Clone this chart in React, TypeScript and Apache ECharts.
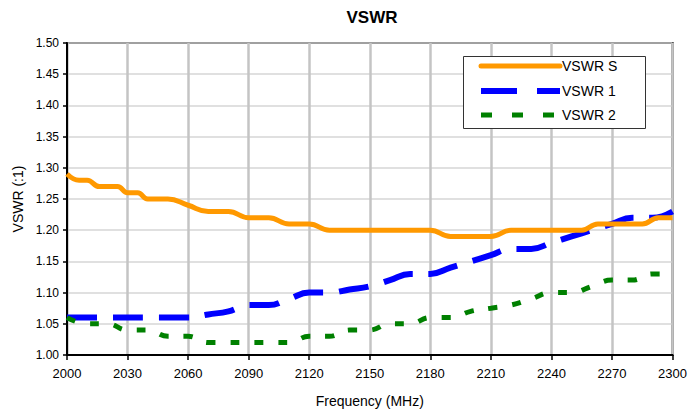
import React, { useEffect, useRef } from "react";
import * as echarts from "echarts";

const sFreq = [2000, 2006, 2010, 2016, 2025, 2030, 2035, 2040, 2050, 2060, 2070, 2080, 2090, 2100, 2110, 2120, 2130, 2140, 2150, 2160, 2170, 2180, 2190, 2200, 2210, 2220, 2230, 2240, 2255, 2263, 2270, 2280, 2285, 2293, 2300];
const sVals = [1.29, 1.28, 1.28, 1.27, 1.27, 1.26, 1.26, 1.25, 1.25, 1.24, 1.23, 1.23, 1.22, 1.22, 1.21, 1.21, 1.2, 1.2, 1.2, 1.2, 1.2, 1.2, 1.19, 1.19, 1.19, 1.2, 1.2, 1.2, 1.2, 1.21, 1.21, 1.21, 1.21, 1.22, 1.22];

const freq = [2000, 2010, 2020, 2030, 2040, 2050, 2060, 2070, 2080, 2090, 2100, 2110, 2120, 2130, 2140, 2150, 2160, 2170, 2180, 2190, 2200, 2210, 2220, 2230, 2240, 2250, 2260, 2270, 2280, 2290, 2300];
const v1 = [1.06, 1.06, 1.06, 1.06, 1.06, 1.06, 1.06, 1.065, 1.07, 1.08, 1.08, 1.09, 1.1, 1.1, 1.105, 1.11, 1.12, 1.13, 1.13, 1.14, 1.15, 1.16, 1.17, 1.17, 1.18, 1.19, 1.2, 1.21, 1.22, 1.22, 1.23];
const v2 = [1.06, 1.05, 1.05, 1.04, 1.04, 1.03, 1.03, 1.02, 1.02, 1.02, 1.02, 1.02, 1.03, 1.03, 1.04, 1.04, 1.05, 1.05, 1.06, 1.06, 1.07, 1.075, 1.08, 1.09, 1.1, 1.1, 1.11, 1.12, 1.12, 1.13, 1.13];

const seriesNames = ["VSWR S", "VSWR 1", "VSWR 2"];
const colors = ["#FF9900", "#0000FF", "#008000"];
const FONT = "Liberation Sans, Arial, sans-serif";

export default function App() {
  const ref = useRef<HTMLDivElement>(null);
  useEffect(() => {
    if (!ref.current) return;
    const chart = echarts.init(ref.current, undefined, { renderer: "svg" });
    const zip = (xs: number[], ys: number[]) => xs.map((x, i) => [x, ys[i]]);
    const legendRows = [66, 91, 115];
    const legendDash: (number[] | null)[] = [null, [36, 20], [11, 20]];
    const legendWidths = [5, 6, 5];
    const legendEls: any[] = [
      {
        type: "rect",
        shape: { x: 463.5, y: 56.5, width: 182, height: 72 },
        style: { fill: "#fff", stroke: "#333", lineWidth: 1 },
        z: 10,
      },
    ];
    seriesNames.forEach((name, i) => {
      legendEls.push({
        type: "line",
        shape: { x1: 481, y1: legendRows[i], x2: 560, y2: legendRows[i] },
        style: {
          stroke: colors[i],
          lineWidth: legendWidths[i],
          lineDash: legendDash[i] || undefined,
          lineCap: i === 0 ? "round" : "butt",
        },
        z: 11,
      });
      legendEls.push({
        type: "text",
        x: 562,
        y: legendRows[i],
        style: { text: name, fontSize: 14, fill: "#000", fontFamily: FONT, textVerticalAlign: "middle", verticalAlign: "middle" },
        z: 11,
      });
    });
    chart.setOption({
      animation: false,
      backgroundColor: "#fff",
      textStyle: { fontFamily: FONT },
      graphic: [
        {
          type: "text",
          x: 372,
          y: 9,
          style: { text: "VSWR", fontSize: 17, fontWeight: "bold", fill: "#000", fontFamily: FONT, textAlign: "center" },
        },
        ...legendEls,
      ],
      grid: { left: 67, right: 14, top: 43, bottom: 58, show: true, borderColor: "#000", borderWidth: 2 },
      xAxis: {
        type: "value",
        min: 2000,
        max: 2300,
        interval: 30,
        name: "Frequency (MHz)",
        nameLocation: "middle",
        nameGap: 39,
        nameTextStyle: { fontSize: 14, color: "#000", fontFamily: FONT },
        axisLine: { show: true, lineStyle: { color: "#000", width: 2 } },
        axisTick: { show: true, length: 5, lineStyle: { color: "#000", width: 1.5 } },
        axisLabel: { fontSize: 13, color: "#000", margin: 12, fontFamily: FONT, formatter: (v: number) => String(v) },
        splitLine: { show: true, lineStyle: { color: "#c4c4c4", width: 2.5 } },
      },
      yAxis: {
        type: "value",
        min: 1.0,
        max: 1.5,
        interval: 0.05,
        name: "VSWR (:1)",
        nameLocation: "middle",
        nameGap: 41,
        nameTextStyle: { fontSize: 14, color: "#000", fontFamily: FONT },
        axisLine: { show: true, lineStyle: { color: "#000", width: 2 } },
        axisTick: { show: true, length: 4, lineStyle: { color: "#000", width: 1.5 } },
        axisLabel: { fontSize: 12, color: "#000", margin: 8, fontFamily: FONT, formatter: (v: number) => v.toFixed(2) },
        splitLine: { show: true, lineStyle: { color: "#d6d6d6", width: 1.5 } },
      },
      series: [
        {
          name: seriesNames[0],
          type: "line",
          data: zip(sFreq, sVals),
          smooth: 0.45,
          symbol: "none",
          color: colors[0],
          lineStyle: { color: colors[0], width: 5 },
          z: 3,
        },
        {
          name: seriesNames[1],
          type: "line",
          data: zip(freq, v1),
          smooth: 0.45,
          symbol: "none",
          color: colors[1],
          lineStyle: { color: colors[1], width: 6, type: [30, 16], cap: "butt" },
          z: 2,
        },
        {
          name: seriesNames[2],
          type: "line",
          data: zip(freq, v2),
          smooth: 0.45,
          symbol: "none",
          color: colors[2],
          lineStyle: { color: colors[2], width: 5, type: [9, 15], cap: "butt" },
          z: 2,
        },
      ],
    });
    return () => chart.dispose();
  }, []);
  return <div ref={ref} style={{ position: "fixed", left: 0, top: 0, width: 690, height: 413 }} />;
}
